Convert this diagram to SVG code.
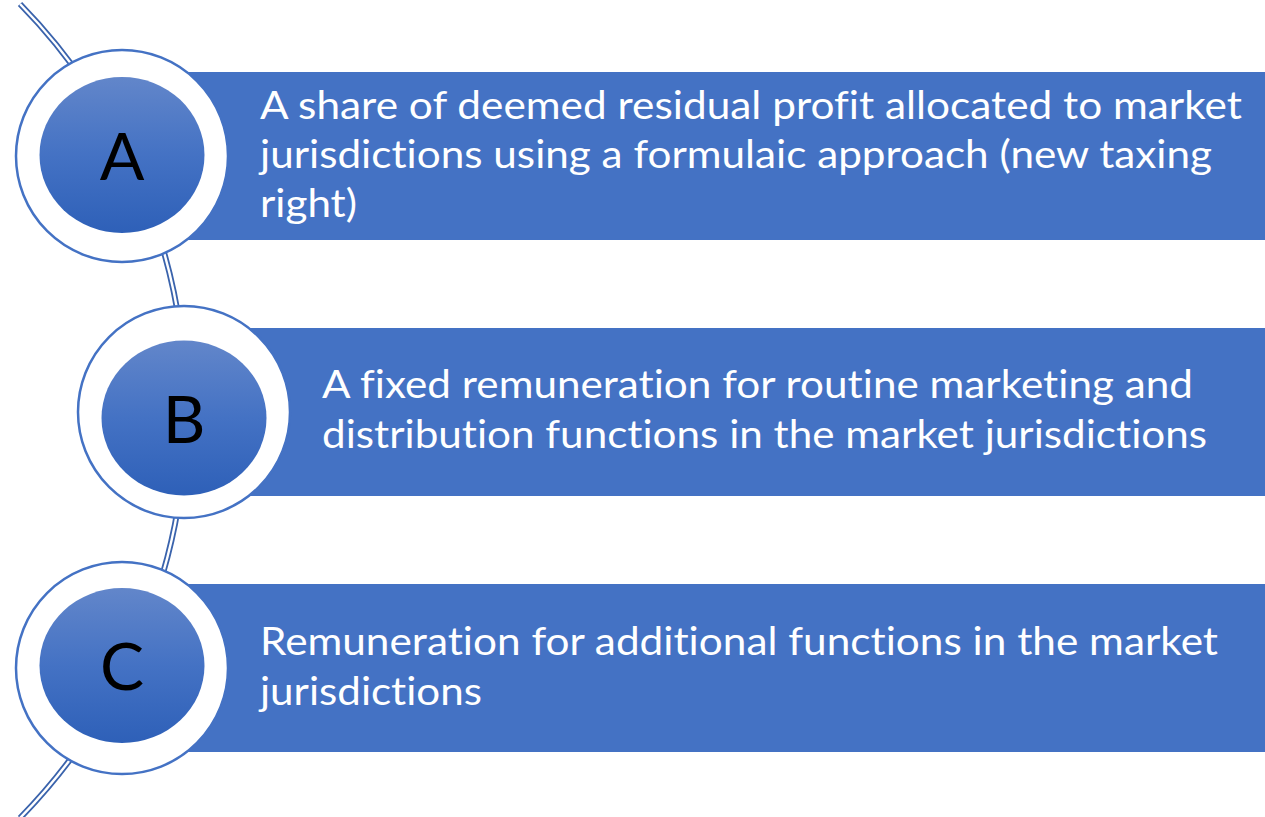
<svg xmlns="http://www.w3.org/2000/svg" width="1265" height="817" viewBox="0 0 1265 817">
  <defs>
    <linearGradient id="ballFill" x1="0" y1="0" x2="0" y2="1">
      <stop offset="0" stop-color="#6286CA"/>
      <stop offset="0.5" stop-color="#4472C4"/>
      <stop offset="1" stop-color="#2E60B8"/>
    </linearGradient>
    <style>
      .bar { fill: #4472C4; }
      .ring { fill: #FFFFFF; stroke: #4472C4; stroke-width: 2.5; }
      .ball { fill: url(#ballFill); }
      .letter { font-family: Lato, "Liberation Sans", sans-serif; font-size: 66px; fill: #000000; text-anchor: middle; }
      .label { font-family: Lato, "Liberation Sans", sans-serif; font-size: 38px; fill: #FFFFFF; font-variant-ligatures: none; }
      .arcOuter { fill: none; stroke: #3A63AC; stroke-width: 6; }
      .arcInner { fill: none; stroke: #FFFFFF; stroke-width: 2.4; }
    </style>
  </defs>

  <rect width="1265" height="817" fill="#FFFFFF"/>

  <!-- connecting arc (double line) -->
  <g id="connectors">
    <path class="arcOuter" d="M 20 4 A 582 582 0 0 1 20 818"/>
    <path class="arcInner" d="M 20 4 A 582 582 0 0 1 20 818"/>
  </g>

  <g id="node-a">
    <rect class="bar" x="122" y="72" width="1143" height="168"/>
    <circle class="ring" cx="122" cy="156" r="106"/>
    <ellipse class="ball" cx="122" cy="155" rx="82.5" ry="78"/>
    <text class="letter" x="122" y="180">A</text>
    <text class="label" x="260" y="119" textLength="982" lengthAdjust="spacingAndGlyphs">A share of deemed residual profit allocated to market</text>
    <text class="label" x="260" y="168" textLength="952" lengthAdjust="spacingAndGlyphs">jurisdictions using a formulaic approach (new taxing</text>
    <text class="label" x="260" y="217" textLength="97" lengthAdjust="spacingAndGlyphs">right)</text>
  </g>

  <g id="node-b">
    <rect class="bar" x="184" y="328" width="1081" height="168"/>
    <circle class="ring" cx="184" cy="412" r="106"/>
    <ellipse class="ball" cx="184" cy="418" rx="82.5" ry="77.5"/>
    <text class="letter" x="184" y="443">B</text>
    <text class="label" x="322" y="398" textLength="871" lengthAdjust="spacingAndGlyphs">A fixed remuneration for routine marketing and</text>
    <text class="label" x="322" y="448" textLength="885" lengthAdjust="spacingAndGlyphs">distribution functions in the market jurisdictions</text>
  </g>

  <g id="node-c">
    <rect class="bar" x="122" y="584" width="1143" height="168"/>
    <circle class="ring" cx="122" cy="668" r="106"/>
    <ellipse class="ball" cx="122" cy="665.5" rx="82.5" ry="77.5"/>
    <text class="letter" x="122" y="690">C</text>
    <text class="label" x="260" y="655" textLength="958" lengthAdjust="spacingAndGlyphs">Remuneration for additional functions in the market</text>
    <text class="label" x="260" y="705" textLength="222" lengthAdjust="spacingAndGlyphs">jurisdictions</text>
  </g>
</svg>
